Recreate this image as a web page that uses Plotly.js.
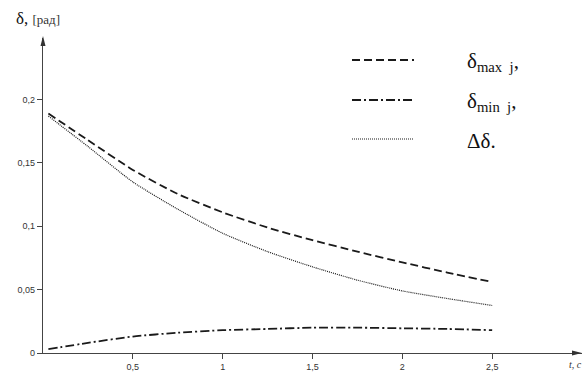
<!DOCTYPE html>
<html>
<head>
<meta charset="utf-8">
<script src="https://cdn.plot.ly/plotly-3.0.1.min.js"></script>
<style>html,body{margin:0;padding:0;background:#fff;}#chart{width:585px;height:372px;}</style>
</head>
<body>
<div id="chart"></div>
<script>
// Data
const tValues = [0.03, 0.25, 0.5, 0.75, 1.0, 1.25, 1.5, 1.75, 2.0, 2.25, 2.5];
const deltaMax = [0.189, 0.168, 0.1445, 0.1255, 0.111, 0.099, 0.089, 0.080, 0.0715, 0.0635, 0.056];
const deltaMin = [0.003, 0.008, 0.013, 0.016, 0.018, 0.019, 0.020, 0.020, 0.0195, 0.019, 0.018];
const deltaDiff = [0.187, 0.163, 0.135, 0.1135, 0.0945, 0.080, 0.068, 0.0575, 0.049, 0.043, 0.0375];
const seriesNames = ['δ<sub>max  j</sub>,', 'δ<sub>min  j</sub>,', 'Δδ.'];
const xTickVals = [0.5, 1, 1.5, 2, 2.5];
const xTickText = ['0,5', '1', '1,5', '2', '2,5'];
const yTickVals = [0, 0.05, 0.1, 0.15, 0.2];
const yTickText = ['0', '0,05', '0,1', '0,15', '0,2'];

const ink = '#1a1a1a';
const styles = [
  {dash: '8px,4px', width: 1.8},
  {dash: '9px,3px,2px,3px', width: 1.8},
  {dash: '1px,1px', width: 1.2}
];
const seriesData = [deltaMax, deltaMin, deltaDiff];

const traces = seriesData.map((ys, i) => ({
  x: tValues, y: ys, type: 'scatter', mode: 'lines',
  line: {color: ink, width: styles[i].width, dash: styles[i].dash, shape: 'spline', smoothing: 0.6},
  name: seriesNames[i], showlegend: false, hoverinfo: 'skip'
}));

// manual legend (samples in paper coords)
const W = 539, H = 315; // plot area size
const legendRows = [60, 100, 139]; // px from top of figure
const toPaperY = py => 1 - (py - 38) / H;
const toPaperX = px => (px - 43) / W;
const shapes = legendRows.map((py, i) => ({
  type: 'line', xref: 'paper', yref: 'paper',
  x0: toPaperX(352), x1: toPaperX(414), y0: toPaperY(py), y1: toPaperY(py),
  line: {color: ink, width: styles[i].width, dash: styles[i].dash}
}));
// axis arrowheads
shapes.push({
  type: 'path', xref: 'paper', yref: 'paper', xsizemode: 'pixel', ysizemode: 'pixel',
  xanchor: 0, yanchor: 1, path: 'M0,2 L-2.5,-8 L2.5,-8 Z',
  fillcolor: '#333', line: {width: 0}
});
shapes.push({
  type: 'path', xref: 'paper', yref: 'paper', xsizemode: 'pixel', ysizemode: 'pixel',
  xanchor: 1, yanchor: 0, path: 'M0,0 L-10,2.5 L-10,-2.5 Z',
  fillcolor: '#333', line: {width: 0}
});

const serif = "'Liberation Serif', 'Times New Roman', serif";
const annotations = legendRows.map((py, i) => ({
  xref: 'paper', yref: 'paper', x: toPaperX(465), y: toPaperY(py + 2),
  xanchor: 'left', yanchor: 'middle', showarrow: false,
  text: seriesNames[i], font: {family: serif, size: 21, color: '#111'}
}));

// axis labels
annotations.push({
  xref: 'paper', yref: 'paper', x: toPaperX(14), y: toPaperY(18),
  xanchor: 'left', yanchor: 'middle', showarrow: false,
  text: 'δ, <span style="font-size:13px;fill:#333">[рад]</span>',
  font: {family: serif, size: 17, color: '#111'}
});
annotations.push({
  xref: 'paper', yref: 'paper', x: toPaperX(584), y: toPaperY(364),
  xanchor: 'right', yanchor: 'middle', showarrow: false,
  text: '<i>t, c</i>', font: {family: serif, size: 10, color: '#333'}
});

const axisCommon = {
  showline: true, linecolor: '#444', linewidth: 1.2,
  showgrid: false, zeroline: false,
  ticks: 'outside', ticklen: 5, tickcolor: '#444', tickwidth: 1,
  tickfont: {family: "'Liberation Sans', Arial, sans-serif", size: 9, color: '#333'},
  fixedrange: true
};

const layout = {
  width: 585, height: 372,
  margin: {l: 43, r: 3, t: 38, b: 19},
  paper_bgcolor: '#fff', plot_bgcolor: '#fff',
  xaxis: Object.assign({}, axisCommon, {range: [0, 3.0], tickmode: 'array', tickvals: xTickVals, ticktext: xTickText}),
  yaxis: Object.assign({}, axisCommon, {range: [0, 0.2486], tickmode: 'array', tickvals: yTickVals, ticktext: yTickText}),
  shapes: shapes,
  annotations: annotations,
  showlegend: false
};

Plotly.newPlot('chart', traces, layout, {staticPlot: true, displayModeBar: false});
</script>
</body>
</html>
